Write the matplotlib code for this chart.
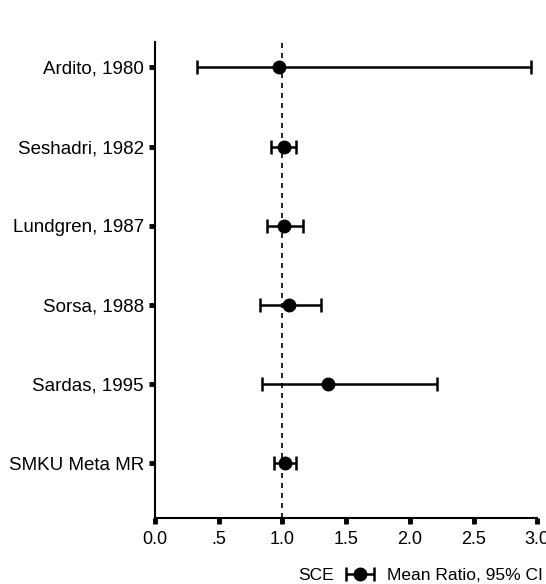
import matplotlib.pyplot as plt
from matplotlib.legend_handler import HandlerErrorbar

plt.rcParams["font.family"] = ["Liberation Sans", "DejaVu Sans"]

studies = ["Ardito, 1980", "Seshadri, 1982", "Lundgren, 1987",
           "Sorsa, 1988", "Sardas, 1995", "SMKU Meta MR"]
mean_ratio = [0.97, 1.01, 1.01, 1.05, 1.36, 1.02]
ci_low = [0.33, 0.91, 0.88, 0.82, 0.84, 0.93]
ci_high = [2.95, 1.11, 1.16, 1.30, 2.21, 1.11]
xticks = [0.0, 0.5, 1.0, 1.5, 2.0, 2.5, 3.0]
xticklabels = ["0.0", ".5", "1.0", "1.5", "2.0", "2.5", "3.0"]

fig = plt.figure(figsize=(5.46, 5.84), dpi=100)
ax = fig.add_axes([0.284, 0.113, 0.700, 0.815])

ypos = list(range(len(studies)))
err = [[m - lo for m, lo in zip(mean_ratio, ci_low)],
       [hi - m for m, hi in zip(mean_ratio, ci_high)]]

ax.axvline(1.0, color="black", linestyle=(0, (3, 3)), linewidth=1.2, zorder=1)
eb = ax.errorbar(mean_ratio, ypos, xerr=err, fmt="o", color="black",
                 markersize=9, elinewidth=1.8, capsize=5, capthick=1.8,
                 zorder=3, label="Mean Ratio, 95% CI")

ax.set_xlim(0, 3.0)
ax.set_ylim(5.69, -0.32)
ax.set_yticks(ypos)
ax.set_yticklabels(studies, fontsize=13.5)
ax.set_xticks(xticks)
ax.set_xticklabels(xticklabels, fontsize=13)

for side in ["top", "right"]:
    ax.spines[side].set_visible(False)
ax.spines["left"].set_linewidth(1.5)
ax.spines["bottom"].set_linewidth(1.5)
ax.tick_params(axis="both", length=4, width=3.5, direction="out")
ax.tick_params(axis="x", pad=5)
ax.tick_params(axis="y", pad=4)

# legend sits under the axis, with "SCE" as a lead-in on its left
leg = ax.legend(handles=[eb], loc="center right", bbox_to_anchor=(0.995, 0.015),
                bbox_transform=fig.transFigure, frameon=False, fontsize=12.5,
                handlelength=2.2, handletextpad=0.5, borderaxespad=0.0,
                borderpad=0.0, handler_map={type(eb): HandlerErrorbar(xerr_size=0.8)})
fig.text(0.612, 0.015, "SCE", fontsize=12.5, ha="right", va="center")

plt.savefig("out.png", dpi=100)
